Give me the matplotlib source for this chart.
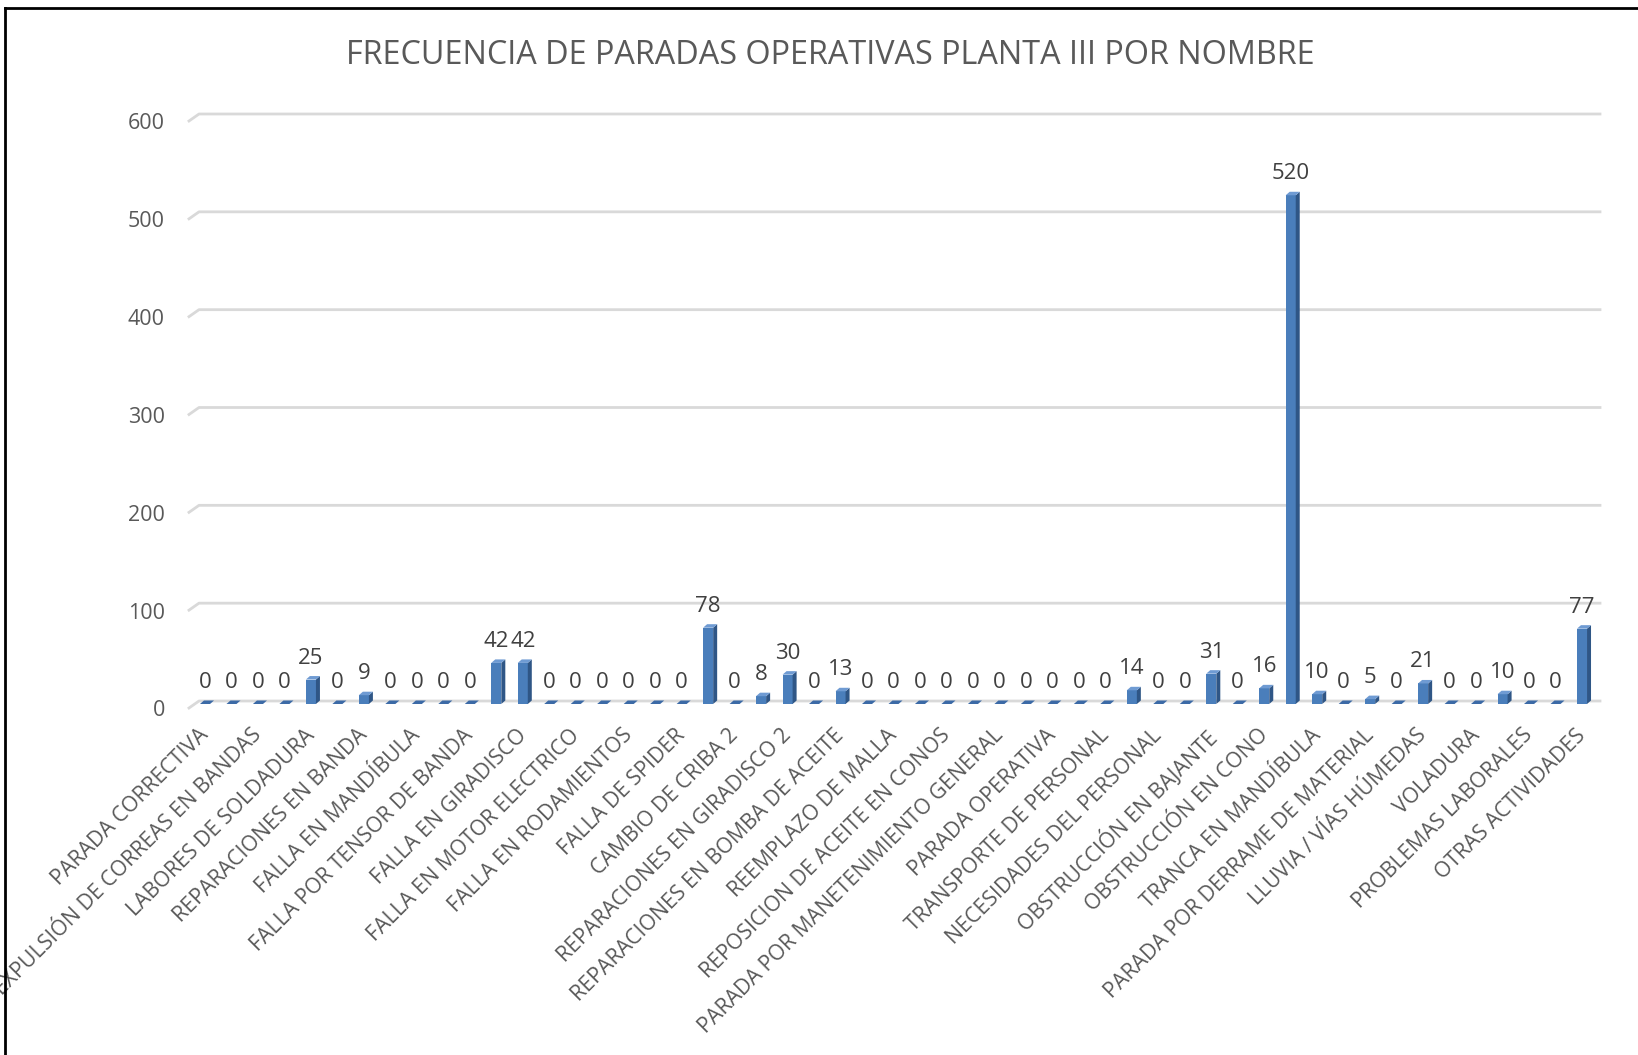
import matplotlib
matplotlib.use("Agg")
import matplotlib.pyplot as plt
from matplotlib.patches import Polygon
from matplotlib.lines import Line2D

FONT = "Open Sans"
FRONT = "#4a7ebb"
SIDE = "#2f5686"
TOP = "#6f9bd3"
GRID = "#d9d9d9"
TEXT = "#595959"
LABEL = "#404040"

values = [0, 0, 0, 0, 25, 0, 9, 0, 0, 0, 0, 42, 42, 0, 0, 0, 0, 0, 0, 78,
          0, 8, 30, 0, 13, 0, 0, 0, 0, 0, 0, 0, 0, 0, 0, 14, 0, 0, 31, 0,
          16, 520, 10, 0, 5, 0, 21, 0, 0, 10, 0, 0, 77]

# every second category carries a visible axis label
tick_labels = [
    "PARADA CORRECTIVA", "EXPULSIÓN DE CORREAS EN BANDAS", "LABORES DE SOLDADURA",
    "REPARACIONES EN BANDA", "FALLA EN MANDÍBULA", "FALLA POR TENSOR DE BANDA",
    "FALLA EN GIRADISCO", "FALLA EN MOTOR ELECTRICO", "FALLA EN RODAMIENTOS",
    "FALLA DE SPIDER", "CAMBIO DE CRIBA 2", "REPARACIONES EN GIRADISCO 2",
    "REPARACIONES EN BOMBA DE ACEITE", "REEMPLAZO DE MALLA",
    "REPOSICION DE ACEITE EN CONOS", "PARADA POR MANETENIMIENTO GENERAL",
    "PARADA OPERATIVA", "TRANSPORTE DE PERSONAL", "NECESIDADES DEL PERSONAL",
    "OBSTRUCCIÓN EN BAJANTE", "OBSTRUCCIÓN EN CONO", "TRANCA EN MANDÍBULA",
    "PARADA POR DERRAME DE MATERIAL", "LLUVIA / VÍAS HÚMEDAS", "VOLADURA",
    "PROBLEMAS LABORALES", "OTRAS ACTIVIDADES",
]
y_ticks = [0, 100, 200, 300, 400, 500, 600]

W, H = 1638, 1055
fig = plt.figure(figsize=(W / 100, H / 100), dpi=100)
fig.patch.set_facecolor("white")

ax_l, ax_r, ax_b, ax_t = 189, 1600, 704, 117
ax = fig.add_axes([ax_l / W, 1 - ax_b / H, (ax_r - ax_l) / W, (ax_b - ax_t) / H])
n = len(values)
x0, x1 = -0.604, n - 0.32
ax.set_xlim(x0, x1)
ax.set_ylim(0, 600)
ax.axis("off")

# pixel -> data conversion for the fake 3D depth
px_x = (x1 - x0) / (ax_r - ax_l)
px_y = 600 / (ax_b - ax_t)
dx, dy = 4 * px_x, 3.5 * px_y
bw = 0.38

# back-wall gridlines with a slanted start
for v in y_ticks:
    ax.add_line(Line2D([x0, x0 + 10 * px_x, x1], [v - 4 * px_y, v + 3 * px_y, v + 3 * px_y],
                       color=GRID, lw=2, zorder=0, clip_on=False))
    ax.text(x0 - 24 * px_x, v - 7 * px_y, str(v), ha="right", va="center", fontsize=15.5,
            color=TEXT, family=FONT)

xs = list(range(n))
ax.bar(xs, values, width=bw, color=FRONT, zorder=2, linewidth=0)
for x, v in zip(xs, values):
    l, r = x - bw / 2, x + bw / 2
    ax.add_patch(Polygon([(r, 0), (r + dx, dy), (r + dx, v + dy), (r, v)],
                         closed=True, fc=SIDE, ec="none", zorder=2))
    ax.add_patch(Polygon([(l, v), (r, v), (r + dx, v + dy), (l + dx, v + dy)],
                         closed=True, fc=TOP if v > 0 else "#3c6aa6", ec="none", zorder=3))
    ax.annotate(str(v), (x, v), xytext=(0, 11.5), textcoords="offset points",
                ha="center", va="baseline", fontsize=16, color=LABEL, family=FONT)

for i, lab in enumerate(tick_labels):
    ax.annotate(lab, (2 * i, 0), xytext=(-5, -15), textcoords="offset points",
                ha="right", va="top", rotation=45, rotation_mode="anchor",
                fontsize=15.3, color=TEXT, family=FONT, annotation_clip=False)

fig.text(830 / W, 1 - 55 / H, "FRECUENCIA DE PARADAS OPERATIVAS PLANTA III POR NOMBRE",
         ha="center", va="center", fontsize=23.3, color=TEXT, family=FONT)

# outer frame (cut at the right and bottom edges)
fig.add_artist(Line2D([5 / W, 5 / W], [0, 1 - 8 / H], transform=fig.transFigure,
                      color="black", lw=2))
fig.add_artist(Line2D([5 / W, 1], [1 - 8 / H, 1 - 8 / H], transform=fig.transFigure,
                      color="black", lw=2))

fig.savefig("out.png", dpi=100, facecolor="white")
